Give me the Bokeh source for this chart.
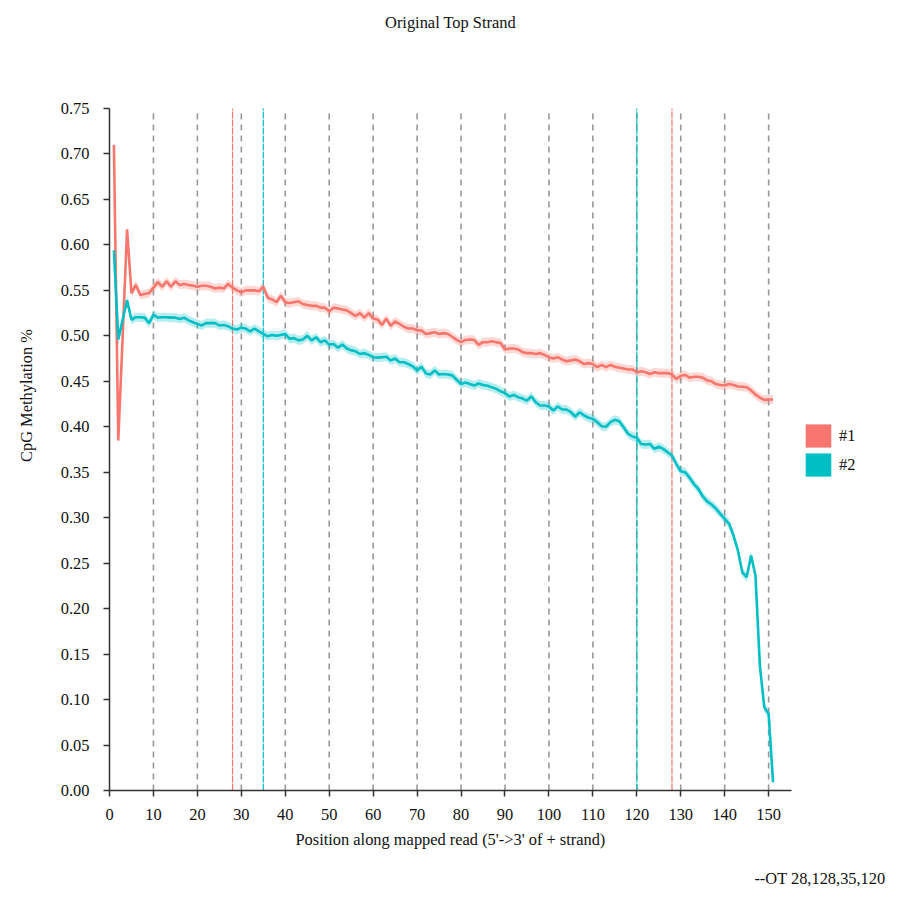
import math
from bokeh.plotting import figure
from bokeh.models import (Range1d, FixedTicker, PrintfTickFormatter, ColumnDataSource,
                          Legend, LegendItem, Title, Label)
from bokeh.embed import file_html
from bokeh.resources import INLINE

# ---------------- data ----------------
positions = list(range(1, 152))

meth_1 = [
    0.710, 0.385, 0.500, 0.617, 0.547, 0.556, 0.545, 0.546, 0.547, 0.553,
    0.559, 0.554, 0.560, 0.554, 0.560, 0.556, 0.557, 0.556, 0.555, 0.554,
    0.555, 0.555, 0.554, 0.552, 0.553, 0.552, 0.557, 0.553, 0.550, 0.548,
    0.550, 0.550, 0.550, 0.549, 0.554, 0.542, 0.540, 0.537, 0.544, 0.537,
    0.536, 0.537, 0.538, 0.535, 0.534, 0.533, 0.533, 0.531, 0.531, 0.527,
    0.531, 0.530, 0.529, 0.528, 0.525, 0.522, 0.525, 0.520, 0.525, 0.519,
    0.518, 0.512, 0.519, 0.511, 0.516, 0.513, 0.510, 0.508, 0.508, 0.506,
    0.506, 0.502, 0.503, 0.504, 0.502, 0.503, 0.502, 0.499, 0.4955, 0.493,
    0.4955, 0.496, 0.4955, 0.490, 0.493, 0.493, 0.494, 0.493, 0.492, 0.485,
    0.486, 0.486, 0.485, 0.482, 0.481, 0.481, 0.480, 0.481, 0.479, 0.4765,
    0.475, 0.4765, 0.474, 0.472, 0.473, 0.474, 0.472, 0.469, 0.470, 0.469,
    0.4655, 0.468, 0.4655, 0.468, 0.466, 0.465, 0.464, 0.463, 0.463, 0.460,
    0.461, 0.460, 0.458, 0.460, 0.459, 0.459, 0.459, 0.4575, 0.4527, 0.456,
    0.457, 0.454, 0.455, 0.455, 0.454, 0.451, 0.450, 0.447, 0.446, 0.4454,
    0.447, 0.446, 0.4443, 0.444, 0.4435, 0.440, 0.4355, 0.432, 0.4296, 0.430,
    0.430,
]

meth_2 = [
    0.594, 0.496, 0.518, 0.539, 0.5176, 0.5205, 0.5205, 0.520, 0.514, 0.523,
    0.520, 0.5205, 0.5205, 0.520, 0.520, 0.5185, 0.520, 0.517, 0.515, 0.513,
    0.5114, 0.514, 0.514, 0.514, 0.5114, 0.512, 0.5105, 0.508, 0.507, 0.509,
    0.508, 0.505, 0.508, 0.505, 0.502, 0.4995, 0.501, 0.500, 0.501, 0.502,
    0.4967, 0.4975, 0.495, 0.496, 0.500, 0.495, 0.4985, 0.493, 0.495, 0.4905,
    0.491, 0.487, 0.4905, 0.486, 0.484, 0.483, 0.480, 0.481, 0.479, 0.4765,
    0.476, 0.4765, 0.477, 0.473, 0.475, 0.471, 0.471, 0.469, 0.4665, 0.462,
    0.466, 0.4587, 0.4575, 0.462, 0.4575, 0.458, 0.4575, 0.4565, 0.4517, 0.447,
    0.4487, 0.447, 0.4454, 0.4476, 0.446, 0.445, 0.4435, 0.4417, 0.439, 0.437,
    0.4333, 0.435, 0.4325, 0.431, 0.4289, 0.4333, 0.427, 0.4234, 0.4234, 0.4223,
    0.4179, 0.4223, 0.419, 0.419, 0.416, 0.4113, 0.416, 0.4124, 0.410, 0.4087,
    0.405, 0.4005, 0.400, 0.405, 0.4076, 0.406, 0.3995, 0.3923, 0.3893, 0.388,
    0.381, 0.3805, 0.381, 0.3757, 0.378, 0.3757, 0.3719, 0.3684, 0.359, 0.351,
    0.350, 0.344, 0.337, 0.3316, 0.3235, 0.318, 0.3145, 0.310, 0.3043, 0.2988,
    0.2933, 0.2804, 0.264, 0.240, 0.2346, 0.2584, 0.2364, 0.1375, 0.0916, 0.0843,
    0.0091,
]

ci_1 = 0.005
ci_2 = 0.005

series_names = ["#1", "#2"]
series_colors = ["#F8766D", "#00BFC4"]

guide_positions = [10, 20, 30, 40, 50, 60, 70, 80, 90, 100, 110, 120, 130, 140, 150]
cuts_1 = [28, 128]
cuts_2 = [35, 120]

x_ticks = [0, 10, 20, 30, 40, 50, 60, 70, 80, 90, 100, 110, 120, 130, 140, 150]
y_ticks = [0.00, 0.05, 0.10, 0.15, 0.20, 0.25, 0.30, 0.35, 0.40, 0.45, 0.50,
           0.55, 0.60, 0.65, 0.70, 0.75]

title_text = "Original Top Strand"
x_label = "Position along mapped read (5'->3' of + strand)"
y_label = "CpG Methylation %"
footer_text = "--OT 28,128,35,120"

FONT = "Liberation Serif"
FS = "16.4px"

# ---------------- layout (pixels) ----------------
W, H = 900, 900
LEFT, BOTTOM = 109, 110          # axis panels
AXIS_PX_W, AXIS_PX_H = 682, 682  # length of the drawn axes
X_AXIS_END = 155.2
Y_AXIS_END = 0.75
frame_w = W - LEFT
frame_h = H - BOTTOM
x_end = X_AXIS_END * frame_w / AXIS_PX_W
y_end = Y_AXIS_END * frame_h / AXIS_PX_H

p = figure(width=W, height=H, output_backend="svg", toolbar_location=None,
           x_range=Range1d(0, x_end), y_range=Range1d(0, y_end),
           min_border_left=LEFT, min_border_right=0,
           min_border_top=0, min_border_bottom=BOTTOM)
p.outline_line_color = None
p.xgrid.visible = False
p.ygrid.visible = False
p.background_fill_color = "white"
p.border_fill_color = "white"

for ax in (p.xaxis[0], p.yaxis[0]):
    ax.axis_line_color = "#333333"
    ax.axis_line_width = 1.5
    ax.major_tick_line_color = "#333333"
    ax.major_tick_line_width = 1.5
    ax.major_tick_out = 6
    ax.major_tick_in = 0
    ax.minor_tick_line_color = None
    ax.major_label_text_font = FONT
    ax.major_label_text_font_size = FS
    ax.major_label_text_color = "#111111"
    ax.axis_label_text_font = FONT
    ax.axis_label_text_font_size = FS
    ax.axis_label_text_font_style = "normal"
    ax.axis_label_text_color = "#111111"

p.xaxis.bounds = (0, X_AXIS_END)
p.yaxis.bounds = (0, Y_AXIS_END)
p.xaxis.ticker = FixedTicker(ticks=x_ticks)
p.yaxis.ticker = FixedTicker(ticks=y_ticks)
p.yaxis.formatter = PrintfTickFormatter(format="%.2f")
p.yaxis.axis_label = y_label
p.xaxis.major_label_standoff = 12
p.yaxis.major_label_standoff = 14
p.yaxis.axis_label_standoff = 22

# guide lines (span the axis range only)
y_lo, y_hi = y_ticks[0], y_ticks[-1]
p.segment(x0=guide_positions, y0=[y_lo] * len(guide_positions),
          x1=guide_positions, y1=[y_hi] * len(guide_positions),
          line_color="#999999", line_width=1.6, line_dash="6 5")
for cuts, col in ((cuts_1, series_colors[0]), (cuts_2, series_colors[1])):
    p.segment(x0=cuts, y0=[y_lo] * len(cuts), x1=cuts, y1=[y_hi] * len(cuts),
              line_color=col, line_width=1.2, line_dash="7 1")

# series
legend_items = []
for name, vals, ci, col in zip(series_names, [meth_1, meth_2], [ci_1, ci_2], series_colors):
    src = ColumnDataSource(dict(x=positions, y=vals,
                                lo=[v - ci for v in vals], hi=[v + ci for v in vals]))
    p.varea(x="x", y1="lo", y2="hi", source=src, fill_color=col, fill_alpha=0.28)
    p.line(x="x", y="y", source=src, line_color=col, line_width=2.6)
    dummy = p.quad(left=[math.nan], right=[math.nan], top=[math.nan], bottom=[math.nan],
                   fill_color=col, line_color=None)
    legend_items.append(LegendItem(label=name, renderers=[dummy]))

legend = Legend(items=legend_items, location=(693, 311), orientation="vertical",
                glyph_width=32, glyph_height=29, label_standoff=5, spacing=0,
                padding=0, margin=0, border_line_color=None,
                background_fill_alpha=0, label_text_font=FONT,
                label_text_font_size=FS, label_text_color="#111111",
                label_height=29)
p.add_layout(legend, "center")

# title inside the (extended) frame
p.add_layout(Label(x=341, y=768, x_units="screen", y_units="screen", text=title_text,
                   text_align="center", text_baseline="middle", text_font=FONT,
                   text_font_size=FS, text_color="#111111"))

# x axis label, centred under the drawn axis, and the footer
xlab = Title(text=x_label, align="left", offset=186, text_font=FONT,
             text_font_size=FS, text_font_style="normal", text_color="#111111",
             standoff=10)
p.add_layout(xlab, "below")
footer = Title(text=footer_text, align="right", offset=15, text_font=FONT,
               text_font_size=FS, text_font_style="normal", text_color="#111111",
               standoff=26)
p.add_layout(footer, "below")

open("out.html", "w").write(file_html(p, INLINE))
